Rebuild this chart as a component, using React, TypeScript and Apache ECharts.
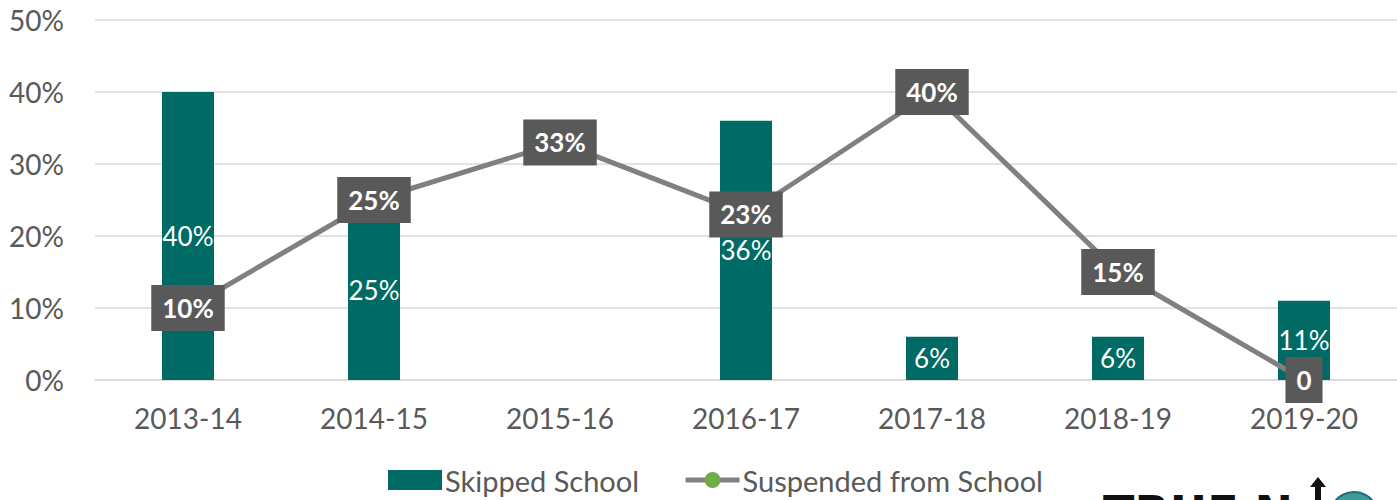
import React, { useEffect, useRef } from "react";
import * as echarts from "echarts";

const categories = ["2013-14", "2014-15", "2015-16", "2016-17", "2017-18", "2018-19", "2019-20"];
const skippedSchool: (number | null)[] = [40, 25, null, 36, 6, 6, 11];
const suspendedFromSchool = [10, 25, 33, 23, 40, 15, 0];
const yTicks = [0, 10, 20, 30, 40, 50];

const FONT = "Lato, 'Open Sans', sans-serif";

export default function App() {
  const ref = useRef<HTMLDivElement>(null);
  useEffect(() => {
    if (!ref.current) return;
    const chart = echarts.init(ref.current, undefined, { renderer: "svg" });
    chart.setOption({
      animation: false,
      textStyle: { fontFamily: FONT },
      grid: { left: 95, top: 20, width: 1306, height: 360, containLabel: false },
      xAxis: {
        type: "category",
        data: categories,
        boundaryGap: true,
        axisTick: { show: false },
        axisLine: { show: true, lineStyle: { color: "#d9d9d9", width: 1.5 } },
        axisLabel: { color: "#595959", fontSize: 28, margin: 24, fontFamily: FONT },
      },
      yAxis: {
        type: "value",
        min: yTicks[0],
        max: yTicks[yTicks.length - 1],
        interval: 10,
        axisLine: { show: false },
        axisTick: { show: false },
        splitLine: { lineStyle: { color: "#d9d9d9", width: 1.5 } },
        axisLabel: { color: "#595959", fontSize: 28, margin: 31, formatter: "{value}%", fontFamily: FONT },
      },
      legend: {
        left: 383,
        top: 460,
        itemGap: 44,
        itemWidth: 54,
        itemHeight: 20,
        lineStyle: { width: 5, color: "#808080" },
        textStyle: { color: "#595959", fontSize: 29, lineHeight: 30, fontFamily: FONT, padding: [0, 0, 0, -2] },
        data: [
          { name: "Skipped School", icon: "rect" },
          { name: "Suspended from School" },
        ],
      },
      series: [
        {
          name: "Skipped School",
          type: "bar",
          data: skippedSchool,
          barWidth: 52,
          itemStyle: { color: "#006B64" },
          label: {
            show: true,
            position: "inside",
            color: "#ffffff",
            fontSize: 26,
            fontFamily: FONT,
            formatter: "{c}%",
          },
          z: 2,
        },
        {
          name: "Suspended from School",
          type: "line",
          data: suspendedFromSchool,
          symbol: "circle",
          symbolSize: 14,
          itemStyle: { color: "#70AD47" },
          lineStyle: { color: "#808080", width: 5 },
          label: {
            show: true,
            position: "inside",
            color: "#ffffff",
            fontSize: 26,
            fontWeight: "bold",
            fontFamily: FONT,
            backgroundColor: "#595959",
            padding: [9, 11],
            lineHeight: 28,
            formatter: (p: any) => (p.value === 0 ? "0" : p.value + "%"),
          },
          z: 3,
        },
      ],
      graphic: [
        {
          type: "text",
          left: 1103,
          top: 490,
          style: {
            text: "TRUE N",
            fill: "#111111",
            font: "900 46px 'DejaVu Sans', sans-serif",
          },
          z: 10,
        },
        {
          type: "polygon",
          shape: {
            points: [
              [1318, 477],
              [1326, 487],
              [1321, 487],
              [1321, 500],
              [1315, 500],
              [1315, 487],
              [1310, 487],
            ],
          },
          style: { fill: "#111111" },
          z: 10,
        },
        {
          type: "circle",
          shape: { cx: 1354, cy: 516, r: 24 },
          style: { fill: "#3f9a9a", stroke: "#1c6e7a", lineWidth: 2 },
          z: 10,
        },
      ],
    });
    return () => chart.dispose();
  }, []);
  return (
    <div
      ref={ref}
      style={{ position: "absolute", left: 0, top: 0, width: 1397, height: 500 }}
    />
  );
}
